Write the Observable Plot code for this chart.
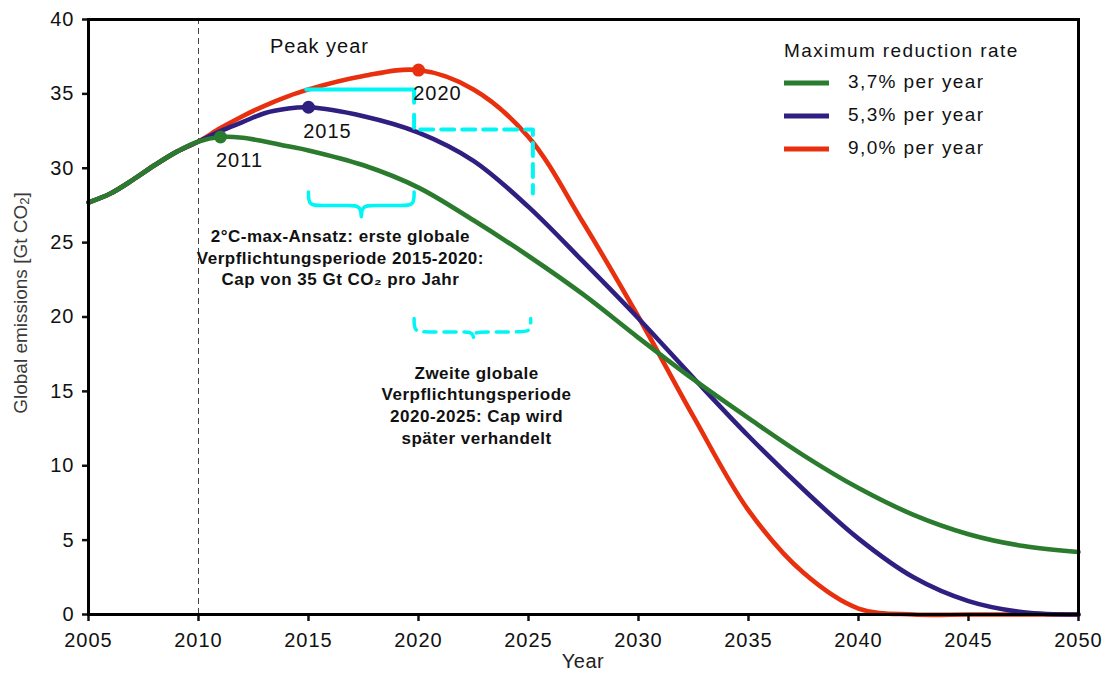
<!DOCTYPE html>
<html>
<head>
<meta charset="utf-8">
<script src="https://cdn.jsdelivr.net/npm/d3@7"></script>
<script src="https://cdn.jsdelivr.net/npm/@observablehq/plot@0.6"></script>
<style>
  body { margin: 0; background: white; }
  svg { display: block; }
</style>
</head>
<body>
<div id="chart"></div>
<script>
// ---- Data ----
const years = [2005,2006,2007,2008,2009,2010,2011,2012,2013,2014,2015,2017.5,2020,2022.5,2025,2027.5,2030,2032.5,2035,2037.5,2040,2042.5,2045,2047.5,2050];
const green = [27.7,28.3,29.2,30.2,31.1,31.8,32.1,32.05,31.8,31.5,31.2,30.2,28.7,26.5,24.1,21.5,18.6,15.8,13.2,10.7,8.5,6.7,5.4,4.6,4.2];
const blue  = [27.7,28.3,29.2,30.2,31.1,31.8,32.5,33.1,33.7,34.0,34.1,33.5,32.4,30.5,27.4,23.7,19.9,15.9,12.0,8.4,5.1,2.5,0.9,0.15,0];
const red   = [27.7,28.3,29.2,30.2,31.1,31.8,32.7,33.5,34.2,34.8,35.3,36.2,36.6,35.3,32.1,26.3,20.0,13.3,7.0,2.8,0.4,0,0,0,0];

const seriesNames = ["3,7% per year", "5,3% per year", "9,0% per year"];
const seriesColors = ["#2b7b2e", "#2f1f80", "#e8300e"];

const peakYears = [2011, 2015, 2020];
const peakValues = [32.1, 34.1, 36.6];
const peakLabels = ["2011", "2015", "2020"];

const xTicks = [2005,2010,2015,2020,2025,2030,2035,2040,2045,2050];
const yTicks = [0,5,10,15,20,25,30,35,40];

const markerYear = 2010;

// Cap annotation (cyan)
const capSolidX = [2014.9, 2019.8, 2019.8];
const capSolidY = [35.3, 35.3, 34.4];
const capDashX = [2019.8, 2019.8, 2025.2, 2025.2];
const capDashY = [33.6, 32.6, 32.6, 28.3];

// Braces (cyan)
const brace1X = [2015.0, 2015.0, 2015.5, 2016.9, 2017.4, 2017.4, 2017.4, 2017.9, 2019.3, 2019.8, 2019.8];
const brace1Y = [28.4, 27.5, 27.5, 27.5, 27.5, 26.37, 27.5, 27.5, 27.5, 27.5, 28.4];
const brace2X = [2019.8, 2019.8, 2020.3, 2022.0, 2022.5, 2022.5, 2022.5, 2023.0, 2024.6, 2025.1, 2025.1];
const brace2Y = [19.9, 19.0, 19.0, 19.0, 19.0, 18.33, 19.0, 19.0, 19.0, 19.0, 19.9];

const note1 = "2°C-max-Ansatz: erste globale\nVerpflichtungsperiode 2015-2020:\nCap von 35 Gt CO₂ pro Jahr";
const note1Pos = [2016.45, 24.06];
const note2 = "Zweite globale\nVerpflichtungsperiode\n2020-2025: Cap wird\nspäter verhandelt";
const note2Pos = [2022.64, 14.13];
const peakTitle = "Peak year";
const peakTitlePos = [2015.5, 38.2];

const legendTitle = "Maximum reduction rate";
const xLabel = "Year";

// ---- Build tables ----
const seriesValues = [green, blue, red];
const rows = [];
seriesValues.forEach((vals, i) => {
  years.forEach((yr, j) => rows.push({series: seriesNames[i], year: yr, value: vals[j]}));
});
const peaks = peakYears.map((y, i) => ({year: y, value: peakValues[i], label: peakLabels[i], color: seriesColors[i]}));
const toPts = (xs, ys) => xs.map((x, i) => ({x, y: ys[i]}));

const font = "'Liberation Sans', Arial, Helvetica, sans-serif";
const cyan = "#00f5f5";

const drawOrder = [2, 1, 0]; // red bottom, green top
const lineMarks = drawOrder.map(i => Plot.line(rows.filter(r => r.series === seriesNames[i]), {
  x: "year", y: "value", stroke: seriesColors[i], strokeWidth: 4.6, curve: "catmull-rom"
}));

const plot = Plot.plot({
  width: 1105,
  height: 675,
  marginLeft: 88,
  marginRight: 27,
  marginTop: 19,
  marginBottom: 61,
  style: {fontFamily: font, background: "white", color: "#111"},
  x: {domain: [2005, 2050]},
  y: {domain: [0, 40]},
  marks: [
    Plot.ruleX([markerYear], {y1: 0, y2: 40, stroke: "#444", strokeWidth: 1, strokeDasharray: "6,4"}),
    ...lineMarks,
    Plot.line(toPts(capSolidX, capSolidY), {x: "x", y: "y", stroke: cyan, strokeWidth: 4}),
    Plot.line(toPts(capDashX, capDashY), {x: "x", y: "y", stroke: cyan, strokeWidth: 4, strokeDasharray: "13,8"}),
    Plot.line(toPts(brace1X, brace1Y), {x: "x", y: "y", stroke: cyan, strokeWidth: 3.5, curve: "basis"}),
    Plot.line(toPts(brace2X, brace2Y), {x: "x", y: "y", stroke: cyan, strokeWidth: 3.5, curve: "basis", strokeDasharray: "12,8"}),
    Plot.dot(peaks, {x: "year", y: "value", fill: "color", r: 6.5, stroke: "none"}),
    Plot.text(peaks, {x: "year", y: "value", text: "label", dx: 19, dy: 24, fontSize: 20, fill: "#111"}),
    Plot.text([peakTitle], {x: peakTitlePos[0], y: peakTitlePos[1], text: d => d, fontSize: 20, fill: "#111"}),
    Plot.text([note1], {x: note1Pos[0], y: note1Pos[1], text: d => d, fontSize: 17, fontWeight: "bold", lineHeight: 1.27, fill: "#111"}),
    Plot.text([note2], {x: note2Pos[0], y: note2Pos[1], text: d => d, fontSize: 17, fontWeight: "bold", lineHeight: 1.27, fill: "#111"}),
    Plot.axisX({ticks: xTicks, tickFormat: "d", tickSize: 7, tickPadding: 11, fontSize: 20, strokeWidth: 2.5, label: null}),
    Plot.axisY({ticks: yTicks, tickFormat: "d", tickSize: 6, tickPadding: 8, fontSize: 20, strokeWidth: 2.5, label: null}),
    Plot.frame({stroke: "black", strokeWidth: 3})
  ]
});

document.getElementById("chart").appendChild(plot);

const svg = d3.select(plot);
// letter spacing for the wide typography of the reference
svg.selectAll("text").attr("letter-spacing", "1");
svg.selectAll("g[font-weight='bold'] text").attr("letter-spacing", "0.5");

// x label
svg.append("text")
  .attr("x", 583).attr("y", 663)
  .attr("text-anchor", "middle").attr("dominant-baseline", "middle")
  .attr("font-family", font).attr("font-size", 20).attr("letter-spacing", "0.5")
  .attr("fill", "#222").text(xLabel);

// y label with subscript
const yl = svg.append("text")
  .attr("transform", "translate(22,303) rotate(-90)")
  .attr("text-anchor", "middle").attr("dominant-baseline", "middle")
  .attr("font-family", font).attr("font-size", 19).attr("fill", "#3a3a3a");
yl.append("tspan").text("Global emissions [Gt CO");
yl.append("tspan").attr("font-size", 13).attr("dy", 4).text("2");
yl.append("tspan").attr("dy", -4).text("]");

// legend
const lg = svg.append("g").attr("font-family", font).attr("font-size", 19).attr("fill", "#111")
  .attr("text-anchor", "start");
lg.append("text").attr("x", 784).attr("y", 52).attr("dominant-baseline", "middle")
  .attr("text-anchor", "start").attr("letter-spacing", "1.4").text(legendTitle);
const legendRowsY = [83, 116, 149];
seriesNames.forEach((name, i) => {
  lg.append("line").attr("x1", 784).attr("x2", 829).attr("y1", legendRowsY[i]).attr("y2", legendRowsY[i])
    .attr("stroke", seriesColors[i]).attr("stroke-width", 5);
  lg.append("text").attr("x", 848).attr("y", legendRowsY[i]).attr("dominant-baseline", "middle")
    .attr("text-anchor", "start").attr("letter-spacing", "1.4").text(name);
});
</script>
</body>
</html>
